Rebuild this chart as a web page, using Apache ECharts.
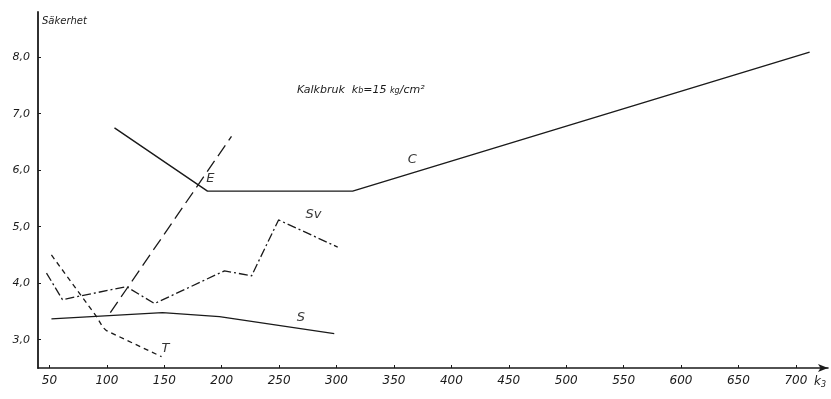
<!DOCTYPE html>
<html><head><meta charset="utf-8">
<script src="https://cdn.jsdelivr.net/npm/echarts@6/dist/echarts.min.js"></script>
<style>html,body{margin:0;padding:0;background:#fff}#c{width:831px;height:399px}</style>
</head><body><div id="c"></div>
<script>
var xTicks = [50,100,150,200,250,300,350,400,450,500,550,600,650,700];
var yTicks = [3,4,5,6,7,8];
var seriesC = [[106.6,6.75],[187.6,5.63],[314,5.63],[712,8.09]];
var seriesE = [[103,3.48],[208.5,6.6]];
var seriesT = [[51.7,4.50],[91,3.41],[96.5,3.22],[99.7,3.16],[147.6,2.70]];
var seriesS = [[51.7,3.37],[148.4,3.48],[198,3.41],[298,3.11]];
var seriesSv = [[47.4,4.18],[61.3,3.71],[117,3.94],[141.5,3.64],[202.4,4.22],[226,4.13],[249.5,5.12],[301,4.64]];
var curveLabels = [["E",190,5.85],["C",366,6.18],["Sv",280,5.21],["S",269,3.39],["T",151,2.84]];

var ink = '#1a1a1a';
var font = 'DejaVu Sans';
function line(name, data, type, w){
  return {name:name, type:'line', data:data, symbol:'none', silent:true,
    lineStyle:{color:ink, width:w||1.3, type:type}};
}
var chart = echarts.init(document.getElementById('c'));
chart.setOption({
  animation:false,
  backgroundColor:'#fff',
  grid:{left:38, right:3, top:12, bottom:31},
  xAxis:{type:'value', min:40, max:728,
    axisLine:{lineStyle:{color:ink, width:1.6}, symbol:['none','arrow'], symbolSize:[6,10]},
    axisTick:{customValues:xTicks, length:3, inside:true, lineStyle:{color:ink}},
    axisLabel:{customValues:xTicks, color:ink, fontStyle:'italic', fontFamily:font, fontSize:12, margin:7},
    splitLine:{show:false},
    name:'k{s|3}', nameLocation:'end', nameGap:-14,
    nameTextStyle:{color:ink, fontStyle:'italic', fontFamily:font, fontSize:12, padding:[28,0,0,0],
      rich:{s:{fontSize:8, fontStyle:'italic', fontFamily:font, color:ink, padding:[6,0,0,0]}}}
  },
  yAxis:{type:'value', min:2.5, max:8.8,
    axisLine:{show:true, lineStyle:{color:ink, width:1.8}},
    axisTick:{customValues:yTicks, length:3, inside:true, lineStyle:{color:ink}},
    axisLabel:{customValues:yTicks, color:ink, fontStyle:'italic', fontFamily:font, fontSize:11, margin:8,
      formatter:function(v){return v.toFixed(1).replace('.',',');}},
    splitLine:{show:false}
  },
  graphic:[
    {type:'text', left:42, top:16, style:{text:'Säkerhet', fill:ink, font:'italic 10px DejaVu Sans'}},
    {type:'text', left:297, top:85, style:{text:'Kalkbruk  k{s|b}=15 {s|kg}/cm²', fill:ink, font:'italic 11px DejaVu Sans',
      rich:{s:{fontSize:8, fontStyle:'italic', fontFamily:font, fill:ink}}}}
  ],
  series:[
    line('C', seriesC, 'solid', 1.4),
    line('E', seriesE, [13,6], 1.3),
    line('T', seriesT, [5,4], 1.3),
    line('S', seriesS, 'solid', 1.3),
    line('Sv', seriesSv, [9,3,2,3], 1.3),
    {type:'scatter', symbolSize:0, silent:true,
      data:curveLabels.map(function(d){return {name:d[0], value:[d[1],d[2]]};}),
      label:{show:true, position:'inside', formatter:'{b}', color:'#000', fontStyle:'italic', fontFamily:font, fontSize:13}}
  ]
});
</script></body></html>
